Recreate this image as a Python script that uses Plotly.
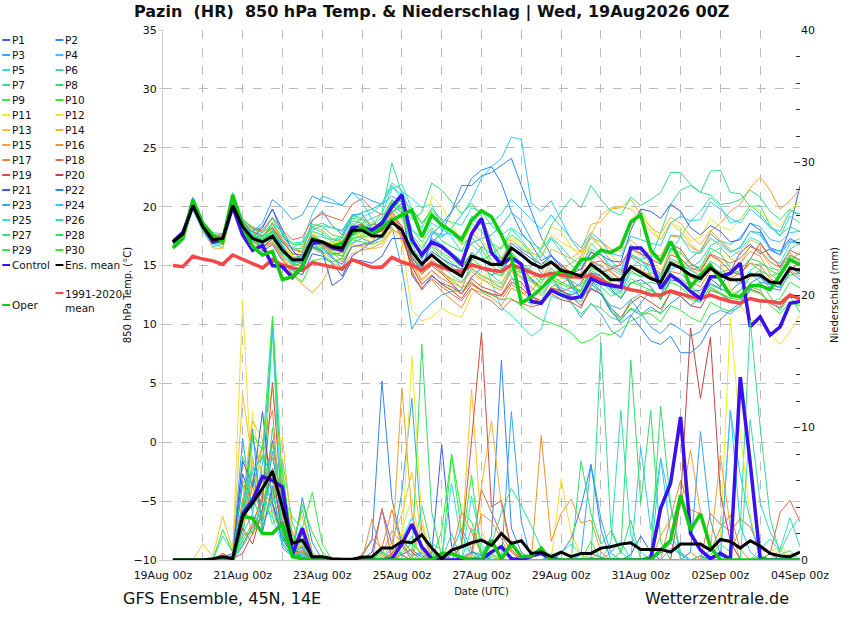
import pandas as pd
import plotly.graph_objects as go

# 6-hourly steps, 19Aug 06z .. 04Sep 00z
times = pd.date_range("2026-08-19 06:00", periods=64, freq="6h")

# ---- main lines, 850 hPa temperature (deg C) ----
t_mean = [17.0, 17.7, 20.1, 18.3, 17.2, 17.3, 20.1, 18.3,
          17.3, 17.0, 17.5, 16.3, 15.5, 15.5, 17.2, 17.0,
          16.6, 16.5, 18.0, 18.0, 17.5, 17.5, 18.7, 18.0,
          16.2, 15.1, 15.9, 15.2, 14.6, 14.1, 15.8, 15.5,
          15.1, 15.1, 16.5, 15.9, 15.2, 14.8, 15.3, 14.6,
          14.4, 14.1, 15.1, 14.5, 13.8, 13.8, 14.9, 14.4,
          13.9, 13.6, 15.2, 14.8, 14.2, 13.9, 14.8, 14.2,
          13.8, 13.8, 14.2, 14.2, 13.6, 13.5, 14.8, 14.6]
t_clim = [15.0, 14.9, 15.8, 15.55, 15.4, 15.1, 15.9, 15.55,
          15.2, 14.8, 15.5, 15.05, 14.8, 14.6, 15.25, 15.05,
          14.85, 14.7, 15.5, 15.2, 14.85, 14.85, 15.7, 15.3,
          15.05, 14.6, 15.2, 14.85, 14.6, 14.5, 15.05, 14.8,
          14.6, 14.5, 15.05, 14.8, 14.4, 14.1, 14.35, 14.2,
          14.05, 14.0, 14.2, 13.8, 13.35, 13.2, 12.95, 12.8,
          12.5, 12.5, 12.85, 12.6, 12.35, 12.2, 12.5, 12.2,
          11.95, 11.8, 12.2, 12.0, 11.95, 11.8, 12.5, 12.2]
t_control = [17.0, 17.8, 20.1, 18.4, 17.0, 17.2, 20.0, 17.6,
             16.3, 16.7, 15.0, 14.9, 14.0, 14.9, 16.9, 17.0,
             16.5, 16.3, 18.2, 18.2, 18.0, 18.6, 20.0, 21.0,
             17.2, 15.9, 17.0, 16.6, 15.9, 15.1, 17.7, 19.0,
             16.1, 15.1, 15.7, 15.1, 11.95, 11.8, 12.9, 12.5,
             12.2, 12.35, 13.9, 13.5, 13.3, 13.15, 16.5, 16.5,
             15.5, 13.05, 14.2, 13.6, 12.8, 12.2, 14.05, 14.05,
             14.35, 15.2, 9.8, 10.65, 9.1, 9.8, 11.8, 11.95]
t_oper = [16.5, 17.3, 20.6, 18.6, 17.6, 17.0, 21.0, 18.3,
          16.6, 15.9, 16.2, 13.8, 14.05, 14.9, 17.3, 17.0,
          16.6, 16.9, 17.75, 18.3, 17.6, 18.2, 18.85, 19.3,
          19.7, 17.45, 19.3, 18.45, 17.9, 17.2, 18.85, 19.65,
          19.15, 17.6, 15.75, 11.8, 12.35, 13.05, 13.9, 14.6,
          14.2, 15.5, 15.6, 16.3, 16.1, 16.6, 18.7, 19.3,
          16.3, 15.35, 17.05, 15.35, 13.2, 14.2, 15.05, 13.8,
          12.5, 12.35, 13.3, 13.3, 12.95, 14.2, 15.5, 15.05]

# ---- main lines, 6h precipitation (mm) ----
pr_mean = [0, 0, 0, 0, 0.1, 0.25, 0.1, 3.3,
           4.3, 5.4, 6.7, 4.0, 1.25, 1.5, 0.25, 0.25,
           0.1, 0.05, 0.05, 0.2, 0.25, 0.9, 0.9, 1.4,
           1.3, 1.9, 0.9, 0.1, 0.75, 1.0, 1.3, 1.5,
           1.1, 2.0, 1.25, 1.45, 0.5, 0.6, 0.25, 0.6,
           0.25, 0.5, 0.5, 0.9, 1.0, 1.2, 1.3, 0.8,
           0.8, 0.8, 0.6, 1.2, 1.2, 1.2, 0.75, 1.55,
           1.4, 0.9, 1.45, 1.05, 0.5, 0.3, 0.25, 0.6]
pr_control = [0, 0, 0, 0, 0, 0, 0, 3.5,
              4.5, 6.3, 6.0, 5.5, 0.4, 2.4, 0.1, 0,
              0, 0, 0, 0, 0, 0, 0.1, 1.2,
              2.7, 1.0, 0.1, 0, 0, 0, 0, 0.05,
              0.6, 1.0, 0.1, 0, 0.3, 0.5, 0.1, 0,
              0, 0, 0, 0, 0, 0, 0, 0,
              0.1, 3.9, 5.8, 10.8, 2.0, 0.75, 0.1, 0.5,
              0.05, 13.8, 7.3, 0.1, 0, 0, 0, 0]
pr_oper = [0, 0, 0, 0, 0, 0, 0, 3.3,
           3.15, 2.0, 2.0, 2.75, 0.25, 0.1, 0, 0,
           0, 0, 0, 0, 0, 0, 0, 0,
           0, 0, 0, 0.5, 0.5, 0.2, 0, 0,
           1.5, 0.05, 1.25, 0.25, 0.3, 0.9, 0, 0,
           0, 0, 0, 0, 0, 0, 0, 0,
           0, 0.75, 1.5, 4.9, 2.25, 3.5, 1.0, 0,
           0, 0, 0, 0, 0, 0, 0, 0]

# ---- perturbed members, temperature ----
t_p1 = [17.0, 17.8, 20.3, 18.5, 17.0, 17.1, 20.5, 18.8, 17.6, 16.2, 16.8, 15.4, 14.6, 14.2, 16.0, 15.8,
        15.2, 14.1, 15.8, 16.4, 17.0, 17.4, 19.5, 20.3, 14.2, 13.0, 14.1, 13.5, 13.2, 12.6, 14.0, 14.8,
        14.2, 14.5, 15.8, 15.1, 13.8, 13.2, 14.1, 12.8, 12.5, 12.9, 14.4, 14.1, 13.0, 12.2, 13.5, 13.8,
        13.2, 12.1, 13.8, 13.6, 12.8, 12.9, 13.9, 13.2, 14.5, 16.1, 16.8, 16.0, 16.4, 15.9, 18.2, 21.8]
t_p2 = [16.8, 17.5, 20.0, 18.0, 17.6, 17.5, 20.2, 18.0, 17.9, 18.3, 19.8, 17.6, 16.4, 16.1, 18.8, 19.6,
        18.4, 17.6, 19.3, 19.4, 18.1, 18.8, 20.1, 19.5, 15.6, 14.8, 16.9, 17.8, 19.6, 21.8, 21.8, 22.6,
        22.9, 23.5, 24.1, 21.8, 19.6, 17.4, 15.9, 14.5, 13.6, 12.2, 13.1, 12.6, 11.1, 10.4, 11.3, 10.8,
        11.5, 10.9, 11.8, 12.4, 11.6, 12.3, 13.4, 13.0, 12.8, 13.6, 14.4, 14.0, 13.1, 12.9, 14.5, 13.8]
t_p3 = [17.2, 18.0, 20.8, 18.7, 17.3, 16.9, 20.8, 18.6, 17.8, 17.1, 17.9, 16.6, 15.2, 15.4, 16.9, 16.2,
        15.8, 14.7, 16.9, 17.3, 16.9, 17.6, 18.3, 14.8, 9.6, 11.0, 11.8, 12.5, 12.8, 12.9, 15.4, 16.6,
        16.0, 15.6, 17.2, 16.4, 15.9, 14.3, 14.0, 12.9, 11.9, 10.6, 11.8, 10.9, 9.5, 8.9, 10.7, 11.8,
        12.9, 12.3, 15.0, 14.8, 15.6, 16.3, 17.7, 17.0, 16.2, 16.5, 17.9, 17.8, 16.3, 15.9, 17.1, 16.8]
t_p4 = [16.6, 17.3, 19.7, 17.9, 16.6, 16.8, 19.8, 17.8, 17.4, 17.5, 18.2, 16.9, 16.5, 17.0, 19.4, 20.9,
        20.6, 20.1, 21.2, 20.4, 18.9, 18.0, 19.8, 19.2, 17.6, 16.5, 17.8, 17.4, 18.2, 19.3, 20.6, 22.4,
        23.4, 24.1, 25.9, 25.7, 20.3, 19.6, 20.5, 18.9, 17.2, 16.1, 17.6, 16.5, 15.4, 14.6, 16.8, 16.0,
        15.2, 14.1, 16.5, 15.6, 14.8, 15.4, 16.7, 17.1, 16.8, 17.4, 18.6, 18.3, 17.2, 17.0, 17.8, 17.9]
t_p5 = [17.1, 17.9, 20.5, 18.3, 17.8, 17.7, 21.2, 19.0, 18.1, 17.6, 18.3, 16.8, 15.7, 15.8, 17.6, 17.4,
        17.2, 17.0, 18.6, 18.1, 17.9, 18.2, 19.9, 21.3, 20.7, 19.9, 20.2, 18.3, 17.4, 16.2, 16.8, 16.0,
        13.6, 11.4, 10.8, 9.9, 9.0, 9.6, 12.4, 12.1, 12.7, 13.6, 15.3, 14.9, 14.1, 13.5, 15.9, 15.6,
        14.2, 13.1, 14.7, 15.0, 14.6, 14.9, 16.1, 16.5, 15.7, 16.3, 17.4, 17.0, 15.6, 15.2, 16.9, 17.3]
t_p6 = [16.9, 17.6, 19.9, 18.6, 16.9, 16.5, 20.4, 18.4, 17.2, 16.7, 17.2, 16.1, 15.3, 15.6, 17.3, 16.9,
        16.3, 16.2, 18.2, 18.6, 19.0, 19.4, 21.5, 21.9, 19.8, 18.6, 19.4, 18.2, 17.9, 17.1, 18.6, 17.9,
        16.9, 16.4, 18.1, 17.2, 16.1, 15.7, 17.3, 16.2, 15.0, 14.6, 16.9, 16.0, 14.7, 14.2, 15.7, 15.1,
        14.6, 13.9, 16.2, 17.4, 18.8, 19.6, 20.8, 20.0, 18.6, 18.9, 20.1, 19.4, 18.3, 17.5, 19.2, 18.6]
t_p7 = [17.0, 17.7, 20.2, 18.4, 17.4, 17.2, 20.6, 18.7, 17.5, 17.0, 17.8, 16.3, 15.1, 15.0, 16.6, 16.4,
        15.9, 16.1, 17.5, 17.9, 18.4, 19.5, 23.7, 21.1, 17.4, 16.1, 16.8, 15.9, 15.3, 14.4, 15.2, 14.8,
        14.2, 13.5, 14.8, 13.9, 13.1, 12.6, 13.6, 12.9, 12.3, 11.9, 13.6, 13.2, 12.4, 12.8, 14.4, 14.1,
        15.6, 17.8, 20.2, 21.4, 21.8, 21.2, 23.0, 23.1, 21.2, 21.1, 20.0, 20.1, 18.4, 17.6, 18.3, 17.9]
t_p8 = [16.7, 17.4, 20.0, 18.2, 17.1, 17.0, 19.9, 18.1, 17.0, 16.9, 17.4, 16.0, 15.6, 15.9, 17.9, 17.6,
        17.0, 17.3, 19.0, 18.9, 18.1, 18.6, 20.4, 20.6, 18.1, 17.0, 18.2, 17.1, 16.6, 16.2, 17.8, 17.0,
        15.4, 14.7, 16.1, 15.2, 14.6, 13.8, 14.2, 12.6, 11.8, 10.9, 11.7, 11.4, 10.6, 10.3, 12.1, 12.6,
        13.0, 12.4, 14.1, 13.9, 13.2, 12.6, 13.5, 13.1, 12.5, 12.9, 14.3, 13.6, 12.4, 11.2, 12.4, 11.0]
t_p9 = [17.1, 17.8, 20.4, 18.1, 17.5, 17.6, 20.9, 18.9, 17.8, 17.3, 18.6, 17.1, 16.0, 15.9, 17.0, 16.8,
        16.2, 15.8, 17.2, 17.0, 16.8, 17.1, 18.7, 18.2, 15.9, 14.6, 15.3, 14.4, 13.8, 13.1, 13.6, 12.8,
        12.5, 12.1, 12.2, 11.6, 10.9, 10.4, 10.1, 9.8, 9.3, 8.4, 8.7, 9.3, 9.1, 9.6, 10.3, 10.7,
        11.2, 11.0, 12.8, 12.6, 12.1, 11.9, 13.2, 12.7, 12.2, 12.9, 14.0, 14.6, 14.1, 14.4, 15.8, 15.4]
t_p10 = [16.9, 17.6, 20.1, 18.3, 17.2, 17.4, 20.3, 18.5, 17.2, 16.6, 17.3, 15.8, 14.3, 13.6, 15.4, 15.6,
         15.3, 15.6, 17.3, 17.6, 17.9, 18.3, 19.6, 19.9, 17.1, 15.8, 16.6, 15.6, 14.9, 14.2, 15.6, 14.9,
         14.5, 14.1, 15.3, 14.6, 13.9, 13.2, 13.9, 13.4, 13.1, 12.8, 14.8, 14.4, 13.5, 13.2, 14.6, 14.0,
         14.4, 14.0, 16.4, 16.1, 15.1, 14.8, 16.5, 16.0, 14.8, 14.3, 15.2, 14.6, 13.4, 13.1, 14.2, 14.4]
t_p11 = [16.8, 17.5, 20.1, 18.0, 16.9, 16.9, 20.0, 18.2, 17.6, 17.5, 18.1, 16.7, 15.9, 16.2, 17.9, 16.8,
         17.0, 16.9, 17.9, 17.6, 17.3, 17.7, 19.4, 18.9, 17.2, 16.4, 20.9, 20.0, 18.6, 16.9, 18.3, 17.2,
         16.1, 16.6, 17.4, 16.8, 16.3, 16.6, 18.3, 17.9, 16.6, 15.6, 16.8, 17.2, 16.3, 16.5, 18.9, 19.8,
         18.3, 17.2, 18.7, 18.2, 17.1, 17.4, 19.0, 18.3, 18.0, 18.9, 20.0, 19.7, 18.8, 18.3, 19.6, 20.5]
t_p12 = [17.2, 17.9, 20.5, 18.6, 17.4, 17.2, 20.6, 18.5, 17.5, 17.0, 17.6, 16.6, 15.8, 15.6, 17.0, 16.6,
         16.2, 16.4, 17.9, 17.4, 17.0, 17.1, 18.2, 17.0, 11.2, 10.3, 10.6, 11.4, 10.9, 10.6, 12.5, 13.6,
         14.9, 15.6, 17.2, 16.5, 16.0, 15.8, 17.6, 17.0, 16.5, 16.1, 17.3, 16.6, 15.9, 15.1, 16.5, 15.8,
         15.3, 14.6, 16.1, 15.4, 14.7, 14.2, 15.8, 15.3, 13.1, 11.6, 10.4, 10.1, 9.3, 8.3, 9.4, 10.8]
t_p13 = [16.6, 17.3, 19.8, 18.1, 16.5, 16.4, 19.9, 17.9, 16.8, 16.4, 17.0, 15.6, 14.8, 14.7, 16.5, 16.1,
         15.6, 15.3, 16.8, 16.6, 16.4, 16.6, 18.0, 17.7, 15.0, 13.6, 14.6, 13.7, 13.0, 12.6, 14.2, 13.8,
         13.5, 13.1, 14.7, 14.1, 13.2, 12.4, 13.6, 13.9, 14.6, 15.2, 17.6, 19.3, 19.9, 20.0, 19.8, 18.9,
         17.9, 17.2, 18.6, 17.9, 16.8, 16.1, 17.4, 16.6, 15.6, 15.2, 16.6, 16.2, 15.0, 14.4, 15.6, 15.0]
t_p14 = [17.0, 17.8, 20.4, 18.2, 17.3, 17.6, 21.0, 18.9, 18.3, 17.9, 18.2, 17.2, 16.1, 16.6, 18.3, 18.0,
         17.3, 17.1, 18.4, 18.9, 18.6, 18.3, 19.2, 18.0, 15.5, 14.2, 15.6, 14.6, 13.6, 13.1, 14.8, 14.2,
         13.8, 13.4, 15.0, 14.5, 14.0, 14.2, 16.4, 16.0, 15.6, 16.3, 18.5, 18.7, 19.8, 19.9, 20.6, 19.3,
         18.2, 17.7, 19.1, 18.6, 17.5, 16.8, 18.0, 17.1, 16.4, 15.9, 17.2, 16.8, 15.7, 15.1, 16.1, 15.2]
t_p15 = [16.9, 17.6, 20.2, 18.4, 17.0, 16.8, 20.1, 18.3, 17.0, 16.4, 16.9, 15.5, 14.2, 13.4, 12.7, 13.6,
         15.2, 14.9, 16.0, 16.3, 16.5, 16.9, 18.1, 17.6, 15.8, 14.9, 15.4, 14.4, 13.9, 13.5, 14.5, 13.9,
         13.3, 12.9, 14.5, 14.0, 13.6, 13.0, 14.4, 14.6, 15.2, 15.8, 17.4, 17.0, 16.4, 16.2, 17.2, 16.4,
         16.0, 15.8, 17.5, 17.4, 16.6, 16.1, 17.9, 18.6, 19.6, 20.2, 21.6, 22.5, 21.4, 19.8, 20.5, 21.5]
t_p16 = [17.1, 17.8, 20.3, 18.6, 17.6, 17.6, 21.0, 18.7, 18.1, 17.8, 18.5, 17.2, 16.4, 16.2, 17.6, 17.0,
         16.1, 15.4, 16.6, 16.7, 16.9, 18.6, 19.4, 18.1, 14.6, 12.9, 13.8, 12.8, 12.1, 11.4, 13.0, 12.7,
         12.3, 11.6, 13.1, 12.6, 12.8, 13.9, 15.2, 15.0, 14.4, 14.0, 15.4, 15.0, 14.4, 13.7, 15.0, 14.5,
         14.2, 13.6, 15.4, 15.1, 14.0, 13.6, 14.9, 14.4, 14.7, 15.2, 16.2, 15.8, 14.3, 13.6, 14.6, 14.1]
t_p17 = [16.7, 17.4, 19.9, 18.0, 16.9, 17.0, 20.0, 18.1, 17.3, 16.6, 17.0, 15.8, 15.0, 15.2, 17.1, 16.8,
         16.0, 16.1, 17.6, 18.2, 18.5, 18.4, 19.1, 17.2, 15.3, 13.8, 14.6, 13.9, 13.4, 12.6, 13.6, 12.9,
         12.6, 12.1, 13.4, 12.8, 12.1, 11.9, 13.2, 13.5, 13.9, 14.4, 16.2, 15.6, 14.5, 13.8, 15.0, 14.6,
         14.1, 13.2, 14.5, 14.3, 13.6, 13.2, 14.6, 14.2, 13.9, 14.4, 15.2, 15.0, 13.9, 13.4, 14.6, 15.3]
t_p18 = [17.0, 17.7, 20.0, 18.5, 17.5, 17.5, 20.7, 18.9, 18.2, 18.0, 19.1, 18.0, 17.2, 17.4, 18.9, 19.4,
         19.1, 18.8, 20.2, 20.7, 19.8, 19.3, 19.6, 18.3, 14.4, 13.1, 13.9, 13.2, 12.6, 12.0, 13.1, 12.4,
         12.0, 11.2, 12.1, 11.8, 11.5, 11.7, 13.0, 12.8, 13.1, 13.4, 15.2, 15.4, 14.9, 14.4, 15.8, 15.4,
         15.0, 14.3, 15.9, 15.6, 14.8, 14.5, 16.0, 15.6, 15.2, 15.6, 16.6, 16.3, 15.3, 14.8, 15.9, 15.5]
t_p19 = [16.9, 17.6, 20.2, 18.3, 17.2, 17.3, 20.4, 18.5, 17.9, 17.5, 18.2, 17.0, 16.0, 15.9, 17.4, 17.1,
         16.6, 16.9, 18.3, 18.5, 17.7, 17.9, 19.0, 18.4, 15.4, 14.3, 15.0, 14.3, 13.5, 12.6, 13.9, 13.2,
         12.9, 12.5, 13.9, 13.6, 12.4, 11.8, 12.6, 12.1, 11.9, 11.4, 13.3, 14.4, 14.7, 15.1, 16.4, 16.0,
         15.6, 15.1, 16.8, 16.4, 15.2, 14.6, 15.9, 15.4, 14.5, 14.2, 15.6, 16.9, 15.8, 14.9, 16.3, 15.9]
t_p20 = [17.2, 17.9, 20.6, 18.4, 17.1, 17.0, 20.1, 18.4, 17.1, 16.5, 17.3, 16.2, 15.4, 15.5, 17.1, 17.1,
         16.8, 16.9, 18.4, 18.2, 17.6, 18.0, 18.9, 17.6, 14.9, 13.4, 14.2, 13.4, 12.9, 12.2, 13.4, 12.9,
         12.6, 12.4, 13.6, 13.1, 12.4, 12.0, 13.1, 12.9, 12.4, 11.6, 13.0, 12.6, 11.4, 10.6, 11.8, 12.4,
         11.9, 11.3, 12.7, 12.4, 11.6, 11.4, 12.9, 12.6, 12.0, 11.7, 13.0, 12.7, 11.8, 11.4, 12.5, 12.1]
t_p21 = [16.8, 17.5, 20.0, 18.1, 17.2, 17.3, 20.4, 18.2, 17.4, 18.2, 19.8, 18.0, 16.3, 15.4, 16.6, 16.2,
         13.3, 13.9, 15.5, 15.4, 15.2, 15.8, 17.3, 17.3, 16.3, 15.3, 16.2, 15.6, 15.1, 14.7, 16.1, 15.4,
         15.0, 15.4, 16.9, 16.2, 15.6, 15.1, 15.8, 15.1, 14.3, 14.7, 16.1, 15.9, 15.4, 15.3, 18.0, 19.8,
         19.6, 19.0, 20.2, 19.6, 18.2, 17.6, 18.4, 17.9, 17.0, 17.2, 18.6, 18.0, 16.5, 16.2, 17.3, 16.8]
t_p22 = [17.1, 17.8, 20.3, 18.6, 17.4, 17.1, 20.2, 18.6, 17.6, 17.2, 18.0, 16.7, 15.4, 15.2, 17.0, 16.7,
         15.6, 15.1, 16.6, 16.8, 17.0, 17.4, 18.6, 17.9, 15.7, 14.5, 17.6, 18.5, 19.6, 20.7, 22.4, 23.1,
         23.4, 22.0, 19.6, 17.8, 16.8, 15.4, 15.9, 14.9, 13.2, 12.2, 13.8, 12.8, 11.2, 10.1, 10.8, 9.7,
         8.6, 8.3, 9.0, 7.6, 7.6, 8.3, 9.8, 10.4, 11.2, 11.8, 13.5, 14.0, 13.4, 13.2, 14.8, 14.3]
t_p23 = [16.9, 17.6, 20.1, 18.3, 17.0, 17.3, 20.3, 18.4, 17.9, 18.6, 20.6, 19.9, 18.9, 19.3, 20.9, 20.5,
         20.3, 20.1, 21.2, 20.9, 20.5, 20.2, 20.9, 20.4, 17.6, 15.5, 17.3, 16.8, 16.1, 15.4, 16.9, 17.3,
         17.6, 18.4, 19.5, 18.8, 17.2, 16.1, 15.2, 14.6, 13.4, 12.6, 13.6, 12.5, 11.6, 11.3, 12.1, 11.0,
         9.8, 9.2, 10.1, 9.6, 9.0, 9.4, 10.8, 11.2, 10.9, 11.6, 13.0, 13.6, 13.4, 13.6, 14.9, 14.6]
t_p24 = [17.2, 17.9, 20.4, 18.5, 17.4, 17.4, 20.6, 18.6, 17.6, 17.1, 18.0, 16.6, 15.5, 15.8, 18.0, 18.4,
         18.2, 17.9, 19.2, 19.5, 19.8, 20.2, 21.7, 21.0, 17.1, 16.2, 17.9, 17.6, 17.8, 17.4, 18.9, 18.5,
         18.6, 19.4, 20.6, 19.8, 18.9, 18.1, 19.3, 18.3, 17.3, 16.5, 17.8, 17.1, 16.0, 15.8, 17.5, 17.2,
         16.9, 16.7, 18.6, 19.2, 18.8, 18.9, 20.4, 19.8, 19.0, 18.6, 19.8, 19.1, 18.2, 17.9, 19.6, 19.4]
t_p25 = [16.7, 17.4, 19.8, 18.0, 16.8, 16.9, 20.0, 18.0, 17.1, 16.6, 17.4, 16.0, 15.1, 15.4, 17.2, 16.9,
         16.4, 16.6, 18.3, 19.1, 19.5, 20.2, 21.8, 20.6, 18.0, 17.4, 18.6, 18.1, 17.6, 17.1, 19.2, 18.6,
         16.9, 15.0, 14.1, 12.3, 11.7, 12.0, 13.8, 13.1, 12.8, 12.4, 14.1, 13.9, 13.1, 12.6, 14.8, 15.5,
         15.9, 15.3, 17.6, 17.5, 16.2, 16.0, 17.3, 16.8, 16.1, 16.6, 17.9, 17.6, 16.4, 16.2, 17.0, 16.9]
t_p26 = [17.0, 17.7, 20.2, 18.4, 17.5, 17.2, 20.3, 18.5, 17.6, 17.0, 18.7, 17.8, 16.9, 17.0, 18.2, 17.8,
         17.2, 17.4, 19.1, 19.5, 19.8, 20.3, 22.0, 21.4, 19.1, 18.2, 19.9, 18.9, 18.7, 18.4, 19.9, 19.6,
         18.4, 17.6, 18.2, 17.6, 16.9, 16.4, 17.4, 16.6, 15.6, 15.1, 16.4, 15.9, 15.0, 14.6, 16.0, 15.4,
         14.8, 14.0, 15.6, 15.2, 14.6, 14.1, 15.4, 14.8, 14.0, 13.4, 14.6, 15.2, 14.8, 14.6, 16.4, 16.9]
t_p27 = [16.8, 17.5, 20.3, 18.5, 17.3, 17.2, 21.1, 18.8, 17.8, 17.4, 18.6, 17.4, 16.5, 16.4, 18.3, 18.6,
         18.2, 18.0, 19.3, 19.0, 18.4, 19.1, 20.6, 19.4, 16.8, 15.1, 15.8, 15.0, 14.2, 13.6, 14.7, 14.1,
         13.7, 13.1, 14.6, 14.4, 14.9, 16.4, 18.4, 19.6, 20.7, 19.9, 21.8, 20.6, 19.6, 19.3, 20.8, 20.1,
         20.6, 21.2, 22.9, 22.9, 21.9, 21.2, 21.0, 20.2, 20.3, 20.6, 21.4, 20.8, 19.6, 18.9, 19.8, 19.2]
t_p28 = [17.1, 17.8, 20.4, 18.5, 17.5, 17.6, 20.9, 18.9, 18.2, 17.8, 19.0, 17.7, 16.8, 16.8, 18.5, 18.3,
         17.6, 17.4, 18.8, 18.6, 18.0, 18.5, 20.3, 19.8, 18.9, 19.5, 22.0, 21.4, 20.4, 19.4, 20.3, 19.2,
         17.0, 15.6, 16.2, 15.0, 14.4, 13.5, 14.8, 14.0, 13.7, 13.2, 14.6, 14.1, 13.2, 12.8, 13.9, 13.4,
         13.6, 13.3, 15.1, 14.8, 14.1, 13.6, 14.9, 14.4, 14.2, 14.6, 15.6, 15.3, 14.6, 14.2, 15.4, 16.1]
t_p29 = [16.6, 17.3, 19.9, 18.0, 16.9, 17.0, 20.2, 18.3, 17.4, 16.9, 17.6, 16.2, 15.2, 14.9, 16.5, 16.0,
         15.3, 15.6, 17.6, 17.9, 18.2, 18.8, 20.6, 19.9, 16.4, 15.6, 16.9, 16.1, 15.6, 14.9, 16.1, 15.5,
         15.9, 16.6, 17.6, 17.0, 15.9, 15.1, 15.4, 14.4, 13.7, 12.5, 13.4, 12.8, 11.4, 10.4, 11.4, 11.0,
         10.9, 10.2, 11.6, 11.2, 10.6, 10.2, 11.9, 11.4, 11.1, 11.5, 12.9, 12.6, 11.9, 12.2, 13.6, 13.1]
t_p30 = [17.0, 17.7, 20.0, 18.2, 17.1, 17.2, 20.1, 18.3, 17.5, 17.2, 17.9, 16.4, 15.5, 15.1, 16.8, 16.5,
         16.0, 15.8, 17.3, 17.4, 17.6, 18.2, 19.8, 20.6, 19.8, 18.6, 19.7, 18.8, 17.9, 16.8, 17.4, 16.4,
         15.1, 14.2, 15.1, 14.4, 13.7, 13.0, 14.1, 13.6, 13.2, 12.9, 14.3, 13.7, 12.8, 12.3, 13.6, 13.3,
         12.9, 12.2, 13.6, 13.2, 12.4, 11.9, 13.1, 12.6, 12.2, 12.1, 13.2, 12.9, 11.6, 10.9, 11.9, 11.6]

# ---- perturbed members, precipitation ----
pr_p1 = [0, 0, 0, 0, 0, 0.2, 0.5, 6.5, 4.2, 5.1, 9.0, 3.6, 0.5, 2.0, 0.3, 0,
         0, 0, 0, 0, 0.6, 3.8, 1.2, 0.4, 0.8, 0.2, 0.5, 8.7, 1.0, 0, 0, 0,
         0, 0, 0, 0, 0, 0, 0.3, 0, 0, 0, 0.5, 0.2, 0, 0, 0.4, 1.8,
         0.6, 0, 0, 0, 0, 0.3, 0, 0, 0, 0, 0, 0, 0.5, 0, 0, 0]
pr_p2 = [0, 0, 0, 0, 0, 0.1, 0, 2.8, 5.6, 7.9, 6.2, 2.1, 0.3, 0.4, 0, 0,
         0, 0, 0, 0.3, 1.5, 13.5, 4.6, 1.2, 0.3, 0.6, 0, 0, 0, 0, 0, 0.4,
         1.8, 15.1, 2.4, 0.6, 0, 0, 0, 0, 0, 0, 0.2, 0, 0, 0, 0, 0,
         0, 0.5, 1.3, 0.4, 0, 0, 0, 0, 0, 0, 0, 0, 0, 0, 0, 0]
pr_p3 = [0, 0, 0, 0, 0, 0, 0.3, 9.2, 3.4, 2.6, 4.5, 5.3, 0.8, 0.2, 0, 0,
         0, 0, 0, 0, 0, 0, 0.8, 5.1, 12.2, 2.1, 0.3, 0, 0.6, 2.4, 0.8, 0,
         0, 0, 11.2, 2.9, 0, 0, 0, 0, 0, 0.4, 7.2, 3.1, 0.5, 0, 0, 0,
         0, 0, 0, 0, 0, 0, 0.8, 0, 0, 0, 0, 0, 0, 0, 0, 0]
pr_p4 = [0, 0, 0, 0, 0, 0, 0.1, 1.2, 2.5, 3.8, 17.5, 4.2, 0.6, 1.1, 0, 0,
         0, 0, 0, 0, 0, 0.2, 0.9, 0.3, 0, 0.5, 1.2, 0.8, 0, 0, 0, 0,
         0.4, 0, 0, 0.3, 0, 0, 0, 0, 0, 0, 0, 0, 0.6, 1.4, 0, 8.5,
         2.3, 7.7, 1.9, 0.5, 0, 0, 0, 0, 11.3, 2.6, 0.6, 0, 0, 0, 0, 0]
pr_p5 = [0, 0, 0, 0, 0, 0, 0.2, 1.6, 7.8, 2.2, 5.4, 1.3, 0.2, 0.4, 0, 0,
         0, 0, 0, 0, 0.2, 0, 0, 1.6, 3.2, 1.1, 0.4, 0, 5.8, 1.2, 0.5, 0.3,
         0, 0, 0, 0, 0, 0, 0, 0.6, 1.2, 0.4, 0, 0, 0, 0, 0, 0,
         0, 0, 0, 0, 0, 0, 0, 0, 0, 0, 0, 0.8, 1.6, 0.6, 2.2, 3.3]
pr_p6 = [0, 0, 0, 0, 0, 0, 0, 3.1, 4.5, 8.6, 3.3, 2.6, 0.5, 1.5, 0, 0,
         0, 0, 0, 0, 0, 0.4, 0, 0.7, 1.8, 0.2, 0, 0, 0, 0, 2.4, 0.6,
         0, 0, 0, 0, 0, 0, 0, 0, 0, 0, 0, 0, 1.3, 11.3, 1.8, 0.6,
         0, 0, 0.9, 0.4, 0, 0, 0, 0, 0, 0, 0, 0, 0, 0, 0, 0]
pr_p7 = [0, 0, 0, 0, 0, 0, 0.4, 7.8, 5.9, 3.2, 6.7, 7.6, 2.8, 1.1, 0.4, 0,
         0, 0, 0, 0, 0, 0.7, 0, 0, 0, 4.1, 0.9, 0, 2.0, 0, 0.2, 0,
         0, 0, 0, 0, 0, 0, 0.5, 0, 0, 0, 0, 16.4, 2.4, 0.6, 0, 0,
         0, 0, 0, 0, 0, 0, 0.4, 1.2, 0.6, 2.4, 18.1, 10.0, 3.2, 0.4, 0.7, 0]
pr_p8 = [0, 0, 0, 0, 0, 0.3, 0.2, 2.6, 9.2, 6.3, 4.1, 1.5, 1.2, 3.8, 0.6, 0,
         0, 0, 0, 0, 0, 0, 0.3, 0, 0, 16.3, 3.6, 0.2, 0, 0, 0, 0.8,
         0.2, 0, 0, 0, 0, 0, 0, 0, 0, 0, 0, 0, 0, 0.6, 15.1, 4.3,
         11.3, 1.4, 0, 0, 0, 0, 0, 0, 0, 0, 0, 0, 0, 0, 0, 0]
pr_p9 = [0, 0, 0, 0, 0, 2.3, 0.6, 5.7, 3.9, 6.1, 7.7, 4.9, 3.2, 2.4, 5.1, 1.2,
         0, 0, 0, 0, 0, 0, 0, 0, 0, 0, 0.6, 0, 7.9, 2.0, 0.4, 0,
         0, 0, 0, 0, 0, 0, 0, 0, 0, 0, 0, 0, 0, 0, 0, 0,
         0, 0, 0, 0, 0, 0.3, 0, 0, 0, 0, 0, 0, 0, 0, 0, 0]
pr_p10 = [0, 0, 0, 0, 0, 0, 0.1, 1.5, 2.8, 4.6, 18.2, 3.7, 0.9, 1.0, 0, 0,
          0, 0, 0, 0, 0, 0, 0, 0.5, 1.3, 0.4, 0, 0, 0, 1.1, 6.4, 0.3,
          0.5, 0, 0, 0, 0, 0, 0, 0, 0, 0, 1.4, 0, 0, 0, 0, 0,
          0, 0, 0, 0, 0, 0, 0, 0, 0, 0, 0, 0, 0, 0, 0, 0]
pr_p11 = [0, 0, 0, 0, 0, 0.1, 0.4, 4.2, 11.2, 5.6, 3.1, 2.5, 0.6, 0.5, 0, 0,
          0, 0, 0, 0, 0, 0, 0, 0.9, 15.4, 3.2, 0, 0, 0, 0, 0, 0,
          0, 0, 0, 0, 0, 0, 0, 0, 0, 0, 0.5, 0, 0, 0, 0, 0,
          0, 0, 0, 0, 0, 0, 0, 1.6, 18.3, 9.5, 3.4, 0, 0, 0, 0.5, 0]
pr_p12 = [0, 0, 0, 0, 0, 0.2, 0.3, 19.6, 4.4, 8.8, 13.0, 6.4, 1.3, 0.8, 0, 0,
          0, 0, 0, 0, 0, 0.3, 0, 2.3, 4.6, 0.5, 0.3, 0, 0.4, 0, 0, 0,
          0, 0, 0, 0, 0, 0, 0, 6.1, 2.0, 0.4, 0, 0, 0, 0, 0, 0,
          0, 0, 0, 0, 0, 0, 0, 0, 0, 0, 0, 0, 0.6, 1.1, 0.3, 0]
pr_p13 = [0, 0, 0, 1.2, 0.3, 3.3, 0.8, 12.5, 7.3, 2.9, 4.8, 9.3, 1.8, 3.3, 0.6, 0,
          0, 0, 0, 0, 0, 0, 1.4, 3.5, 6.6, 1.8, 0.3, 0, 0, 1.0, 12.9, 2.2,
          0.4, 0, 0, 0, 0, 0, 0, 0, 0, 0, 0, 0, 0, 0, 0, 0,
          0, 0, 0, 0, 0, 0, 0, 0, 0, 0, 0, 0, 0, 0, 0, 0]
pr_p14 = [0, 0, 0, 0, 0, 0, 0.2, 4.4, 10.5, 9.1, 6.0, 2.8, 1.6, 1.0, 0, 0,
          0, 0, 0, 0, 0, 0, 0.5, 0, 0, 2.7, 0, 0, 0, 0, 0.6, 5.4,
          10.5, 4.1, 0.6, 0, 0, 0, 0, 0, 0, 0, 0, 0, 0, 0, 0, 0,
          0, 0, 0, 0, 0, 0, 0, 0, 0, 0, 0, 0, 0, 0.8, 0, 0]
pr_p15 = [0, 0, 0, 0, 0, 0, 0, 2.3, 5.6, 3.1, 3.8, 1.6, 0.4, 0.6, 0, 0,
          0, 0, 0, 0, 0, 0, 0.4, 13.0, 3.5, 0.6, 0, 0, 0, 0, 0, 0,
          0, 0, 0, 0, 0, 0, 0, 0, 0, 0, 0, 0, 0, 0, 0, 0,
          0, 1.8, 3.1, 4.0, 8.3, 3.6, 0.8, 7.9, 2.5, 0, 0, 0, 0, 0, 0, 0]
pr_p16 = [0, 0, 0, 0, 0, 0, 0.1, 4.6, 1.9, 3.5, 8.8, 3.9, 2.1, 0.8, 0, 0,
          0, 0, 0, 0, 3.1, 0.4, 2.2, 1.3, 0, 0, 0, 0, 0, 0, 0.3, 3.5,
          2.9, 1.6, 0, 0.4, 0, 9.4, 1.4, 3.5, 4.6, 2.8, 3.0, 0.6, 0, 0, 0, 0,
          0, 0, 0, 0, 0.6, 0, 0, 0, 0, 0, 0, 0, 0, 0, 0, 0]
pr_p17 = [0, 0, 0, 0, 0, 0.4, 0.2, 3.4, 6.1, 8.8, 11.3, 1.9, 0.5, 0.6, 0, 0,
          0, 0, 0, 0.4, 1.6, 0.9, 3.8, 1.1, 0, 0, 0, 0, 0.5, 3.6, 2.1, 0.4,
          0, 0, 0, 0, 0, 0, 0, 0, 0, 0, 0, 0, 0, 0, 0, 0,
          0, 0, 3.2, 6.0, 3.8, 3.5, 0.6, 2.4, 3.4, 0.8, 0, 0, 0, 0, 0, 0]
pr_p18 = [0, 0, 0, 0, 0, 0, 0, 1.1, 2.6, 5.0, 4.3, 2.2, 0.3, 2.0, 0, 0,
          0, 0, 0, 0, 0, 3.9, 0, 0.4, 0, 0, 0, 0.6, 0, 0, 0.5, 5.3,
          3.6, 1.9, 0.6, 0, 0, 0, 0, 0, 0, 0, 0, 0, 0, 0, 0, 0,
          0, 0, 0, 0, 0, 0, 3.5, 2.7, 2.2, 3.1, 2.5, 0.8, 0.5, 3.6, 4.5, 2.9]
pr_p19 = [0, 0, 0, 0, 0, 0.5, 0.1, 0.5, 2.0, 4.6, 13.4, 3.6, 0.4, 0.3, 0, 0,
          0, 0, 0, 0, 0, 0, 0.5, 1.5, 0.6, 0, 0.2, 0, 0, 1.2, 9.0, 17.2,
          4.0, 4.5, 0.8, 0, 0, 0, 0, 0, 0, 0, 0, 0, 0, 0, 0, 0,
          0, 0, 0, 0, 0, 0, 0, 0, 0, 0, 0, 0, 0, 0, 0, 0]
pr_p20 = [0, 0, 0, 0, 0, 0, 0.2, 2.4, 1.2, 3.9, 6.9, 1.8, 0.6, 0.7, 0, 0,
          0, 0, 0, 0, 0, 0, 0, 0, 0, 0, 0, 0, 0, 0, 0, 0,
          0, 0, 0, 0, 0, 0, 0, 0, 0, 0, 0, 0, 0, 0, 0, 0,
          0, 0, 0, 4.5, 17.5, 12.2, 16.8, 5.0, 1.4, 0, 0, 0, 0, 0, 0, 0]
pr_p21 = [0, 0, 0, 0, 0, 0, 0.3, 7.5, 5.5, 11.2, 4.3, 1.6, 0.4, 0.5, 0, 0,
          0, 0, 0, 0, 0, 0, 0, 0, 0, 0, 0, 0, 0, 0, 0, 0,
          0, 0, 0, 0, 0, 0, 0, 0, 0, 0, 0, 0, 0, 0, 0, 0,
          0, 0, 0, 0, 0, 0, 0, 0, 0, 0, 0, 0, 0, 0, 0, 0]
pr_p22 = [0, 0, 0, 0, 0, 0.1, 0.1, 3.6, 9.9, 2.1, 5.6, 0.9, 0.3, 4.7, 1.3, 0,
          0, 0, 0, 0, 0, 0, 0, 0, 0, 0, 0, 0, 0, 0.2, 0.6, 0.4,
          0, 0, 0, 0, 0, 0, 0, 0.5, 1.6, 4.0, 7.2, 2.3, 0, 0, 0, 0,
          0, 0, 0, 0, 0, 0, 0, 0, 0, 0, 0, 0, 0, 0, 0, 0]
pr_p23 = [0, 0, 0, 0, 0, 0, 0, 5.8, 6.6, 3.0, 8.2, 2.2, 0.6, 0.9, 0, 0,
          0, 0, 0, 0, 0, 0, 0, 0, 0, 0, 0, 0, 0, 0, 0, 0,
          0, 0, 0, 0, 0, 0, 0, 0, 0, 0, 0, 0, 0, 0, 0, 0,
          0, 0, 0, 0, 0.6, 9.7, 3.0, 0.4, 0, 0, 0, 0, 0, 0, 0, 0]
pr_p24 = [0, 0, 0, 0, 0, 0.2, 0.2, 2.0, 3.5, 7.3, 17.4, 1.3, 0.3, 0.5, 0, 0,
          0, 0, 0, 0, 0, 0, 0, 0, 0, 0, 0, 0, 0.4, 0, 0, 0,
          0, 0, 0, 0, 0, 0, 0, 0, 0, 0, 0, 0, 0, 0, 0, 0,
          0, 7.7, 4.2, 0.6, 0, 0, 0, 0, 11.3, 6.4, 3.0, 0, 0, 0, 0, 0]
pr_p25 = [0, 0, 0, 0, 0, 0, 0, 1.0, 2.3, 4.4, 3.2, 1.2, 0.2, 0.3, 0, 0,
          0, 0, 0, 0, 0, 0, 0.2, 0, 0, 0, 0, 0, 0, 0, 4.8, 1.2,
          0, 0, 0, 0, 0, 0, 0, 0, 0, 0, 0, 0, 0, 0, 0, 0,
          0, 0, 0, 0, 0, 0, 0, 0, 0, 0, 0, 0, 0, 0, 0, 0]
pr_p26 = [0, 0, 0, 0, 0, 0, 0.1, 4.2, 7.0, 5.3, 2.7, 3.9, 0.4, 0.5, 0, 0,
          0, 0, 0, 0, 0, 0, 0, 0, 0, 0, 0, 0, 0, 0, 0, 0,
          0, 0, 0, 0, 0, 0, 0, 0, 0, 0, 0, 0, 0, 0, 0, 0,
          0, 0, 0, 0, 0, 0, 0, 0, 0, 0, 10.6, 4.3, 2.1, 0.8, 3.2, 1.0]
pr_p27 = [0, 0, 0, 0, 0, 1.8, 0.6, 3.5, 6.7, 7.8, 5.2, 1.6, 0.9, 0.5, 0, 0,
          0, 0, 0, 0, 0, 0, 0, 0, 0, 0, 0, 0, 0, 0, 0, 0,
          1.2, 3.6, 5.4, 4.1, 2.6, 0.9, 0, 0, 0, 0, 0, 0, 0, 0, 0, 0,
          0, 0, 0, 0, 0, 0, 0, 0, 0, 0, 0, 0, 0, 0, 0, 0]
pr_p28 = [0, 0, 0, 0, 0, 0, 0.3, 2.9, 4.8, 2.6, 10.0, 2.0, 0.7, 1.0, 0, 0,
          0, 0, 0, 0, 0, 0.6, 0, 0, 0, 0, 0, 0, 0, 0, 0, 0,
          0, 0, 0, 0, 0, 0, 0, 0, 0, 7.5, 3.5, 1.2, 2.2, 0.5, 3.0, 0,
          0.4, 11.6, 4.2, 0, 0, 0, 0, 0, 0, 0, 0, 0, 0, 0, 0, 0]
pr_p29 = [0, 0, 0, 0, 0, 0, 0.2, 3.1, 9.5, 8.3, 18.4, 5.8, 1.8, 1.4, 0.3, 0,
          0, 0, 0, 0, 0, 0, 0, 0, 0, 0, 0, 0, 0, 0, 0, 0,
          0, 0, 0, 0, 0, 0, 0, 0, 0, 0, 0, 0, 0, 0, 0, 0,
          0, 0, 0, 0, 0, 0, 0, 0, 0, 0, 0, 0.4, 0, 0, 0, 0]
pr_p30 = [0, 0, 0, 0, 0, 0, 0.1, 1.9, 2.1, 3.6, 4.4, 6.9, 0.9, 4.2, 2.1, 0.6,
          0, 0, 0, 0, 0, 0, 0, 0, 0, 0, 0, 2.2, 8.0, 3.6, 2.9, 0.4,
          0, 0, 0, 0, 0, 0, 0, 0, 0, 0, 0, 0, 0, 0, 0, 0,
          0, 0, 0, 0, 0, 0, 0, 0, 0, 0, 0, 0, 0, 0, 0, 0]

member_t = [t_p1, t_p2, t_p3, t_p4, t_p5, t_p6, t_p7, t_p8, t_p9, t_p10,
            t_p11, t_p12, t_p13, t_p14, t_p15, t_p16, t_p17, t_p18, t_p19, t_p20,
            t_p21, t_p22, t_p23, t_p24, t_p25, t_p26, t_p27, t_p28, t_p29, t_p30]
member_pr = [pr_p1, pr_p2, pr_p3, pr_p4, pr_p5, pr_p6, pr_p7, pr_p8, pr_p9, pr_p10,
             pr_p11, pr_p12, pr_p13, pr_p14, pr_p15, pr_p16, pr_p17, pr_p18, pr_p19, pr_p20,
             pr_p21, pr_p22, pr_p23, pr_p24, pr_p25, pr_p26, pr_p27, pr_p28, pr_p29, pr_p30]
member_names = ["P%d" % (k + 1) for k in range(30)]

colors10 = ["#3a5cf0", "#2f86f5", "#35a5f2", "#33c8f0", "#33dfe0",
            "#33ddb4", "#33dd8c", "#33dd66", "#33ea46", "#2aee2a"]
colors_warm = ["#eeee22", "#f8dc33", "#f8c232", "#f5b232", "#f0a232",
               "#ee9232", "#ec8232", "#e06a4c", "#d05048", "#c44242"]
member_colors = colors10 + colors_warm + colors10

c_control = "#3a10f0"
c_oper = "#10cc10"
c_mean = "#000000"
c_clim = "#f24848"

fig = go.Figure()

for name, col, tv in zip(member_names, member_colors, member_t):
    fig.add_trace(go.Scatter(x=times, y=tv, mode="lines", name=name,
                             line=dict(color=col, width=1)))
for name, col, pv in zip(member_names, member_colors, member_pr):
    fig.add_trace(go.Scatter(x=times, y=pv, mode="lines", name=name, yaxis="y2",
                             line=dict(color=col, width=1)))

fig.add_trace(go.Scatter(x=times, y=t_clim, mode="lines", name="1991-2020 mean",
                         line=dict(color=c_clim, width=3.5)))
fig.add_trace(go.Scatter(x=times, y=t_control, mode="lines", name="Control",
                         line=dict(color=c_control, width=3.5)))
fig.add_trace(go.Scatter(x=times, y=pr_control, mode="lines", name="Control", yaxis="y2",
                         line=dict(color=c_control, width=3.5)))
fig.add_trace(go.Scatter(x=times, y=t_oper, mode="lines", name="Oper",
                         line=dict(color=c_oper, width=3.5)))
fig.add_trace(go.Scatter(x=times, y=pr_oper, mode="lines", name="Oper", yaxis="y2",
                         line=dict(color=c_oper, width=3.5)))
fig.add_trace(go.Scatter(x=times, y=t_mean, mode="lines", name="Ens. mean",
                         line=dict(color=c_mean, width=3)))
fig.add_trace(go.Scatter(x=times, y=pr_mean, mode="lines", name="Ens. mean", yaxis="y2",
                         line=dict(color=c_mean, width=3)))

# plot box in pixels: x 163..809, y 30..560
L, R, T, B = 163, 809, 30, 560


def px_x(px):
    return (px - L) / (R - L)


def px_y(py):
    return (B - py) / (B - T)


# hand-built legend on the left (two columns)
shapes = []
annotations = []


def legend_item(x0, y, color, text, width=2):
    shapes.append(dict(type="line", xref="paper", yref="paper",
                       x0=px_x(x0), x1=px_x(x0 + 8), y0=px_y(y), y1=px_y(y),
                       line=dict(color=color, width=width)))
    annotations.append(dict(text=text, xref="paper", yref="paper",
                            x=px_x(x0 + 8), y=px_y(y), xanchor="left", yanchor="middle",
                            showarrow=False, align="left",
                            font=dict(size=10.5, color="#111")))


for k in range(30):
    col = k % 2
    row = k // 2
    legend_item(0 if col == 0 else 54, 40 + 15 * row, member_colors[k], member_names[k])
legend_item(0, 265, c_control, "Control")
legend_item(54, 265, c_mean, "Ens. mean")
legend_item(0, 305, c_oper, "Oper")
shapes.append(dict(type="line", xref="paper", yref="paper",
                   x0=px_x(54), x1=px_x(62), y0=px_y(293), y1=px_y(293),
                   line=dict(color=c_clim, width=2)))
annotations.append(dict(text="1991-2020<br>mean", xref="paper", yref="paper",
                        x=px_x(62), y=px_y(286), xanchor="left", yanchor="top",
                        showarrow=False, align="left",
                        font=dict(size=10.5, color="#111")))

annotations.append(dict(text="<b>Pazin  (HR)  850 hPa Temp. &amp; Niederschlag | Wed, 19Aug2026 00Z</b>",
                        xref="paper", yref="paper", x=px_x(435), y=px_y(12),
                        xanchor="center", yanchor="middle", showarrow=False,
                        font=dict(size=16, color="#111")))
annotations.append(dict(text="GFS Ensemble, 45N, 14E", xref="paper", yref="paper",
                        x=px_x(120), y=px_y(598), xanchor="left", yanchor="middle",
                        showarrow=False, font=dict(size=16, color="#111")))
annotations.append(dict(text="Wetterzentrale.de", xref="paper", yref="paper",
                        x=px_x(650), y=px_y(598), xanchor="left", yanchor="middle",
                        showarrow=False, font=dict(size=16, color="#111")))

fig.update_layout(
    width=850, height=620,
    margin=dict(l=L, r=850 - R, t=T, b=620 - B),
    paper_bgcolor="white", plot_bgcolor="white",
    showlegend=False,
    font=dict(family="DejaVu Sans", size=11, color="#111"),
    shapes=shapes, annotations=annotations,
    xaxis=dict(type="date", range=["2026-08-19 00:00", "2026-09-04 00:00"],
               tick0="2026-08-19", dtick=2 * 86400000, tickformat="%d%b %Hz",
               showgrid=True, gridcolor="#bbbbbb", griddash="dash", gridwidth=1,
               minor=dict(dtick=86400000, showgrid=True, gridcolor="#bbbbbb",
                          griddash="dash", gridwidth=1),
               showline=True, linecolor="#cccccc", ticks="", zeroline=False,
               ticklabelstandoff=5,
               title=dict(text="Date (UTC)", font=dict(size=10), standoff=6)),
    yaxis=dict(range=[-10, 35], dtick=5, showgrid=True, gridcolor="#bbbbbb",
               griddash="dash", zeroline=False, showline=True, linecolor="#cccccc",
               ticks="outside", ticklen=3, tickcolor="#cccccc",
               title=dict(text="850 hPa Temp. (°C)", font=dict(size=10), standoff=0)),
    yaxis2=dict(range=[0, 40], dtick=10, overlaying="y", side="right",
                showgrid=False, zeroline=False, showline=False,
                ticks="inside", ticklen=6, tickcolor="#333333",
                minor=dict(dtick=2, ticks="inside", ticklen=4, tickcolor="#333333"),
                title=dict(text="Niederschlag (mm)", font=dict(size=10), standoff=16)),
)

fig.write_html("out.html", config={"displayModeBar": False},
               post_script="document.body.style.margin='0px';")
